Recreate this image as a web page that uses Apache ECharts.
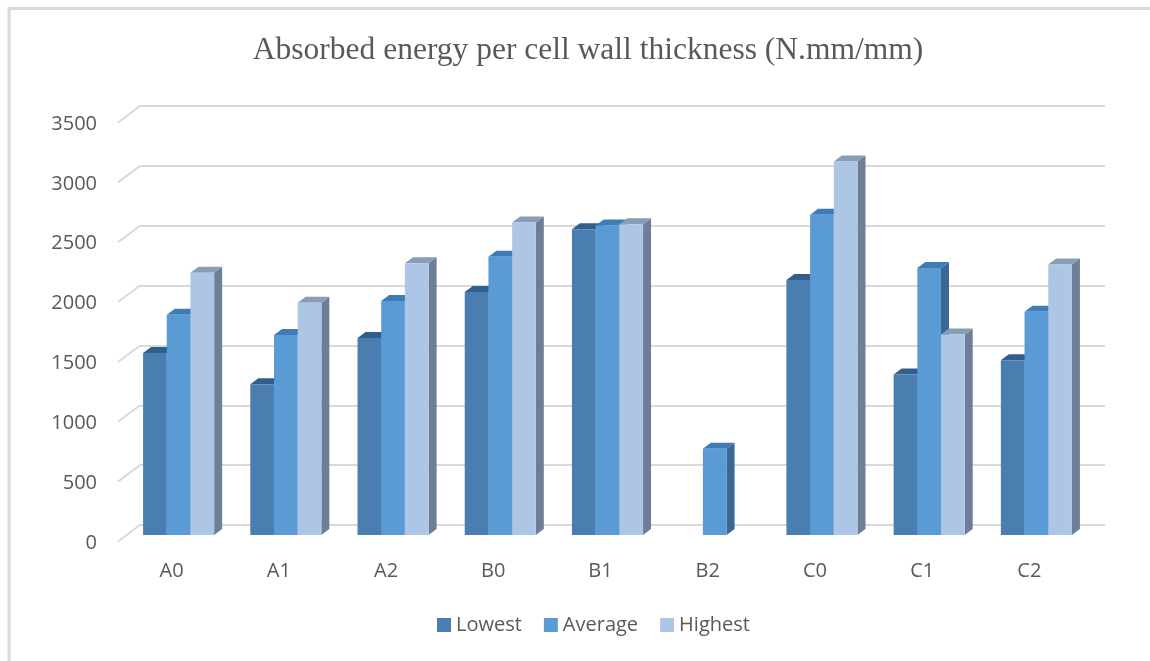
<!DOCTYPE html>
<html>
<head>
<meta charset="utf-8">
<script src="https://cdn.jsdelivr.net/npm/echarts@6/dist/echarts.min.js"></script>
<style>
  html, body { margin: 0; padding: 0; background: #ffffff; }
  #chart { width: 1150px; height: 661px; }
</style>
</head>
<body>
<div id="chart"></div>
<script>
// Absorbed energy per cell wall thickness, three statistics per specimen
const categories = ['A0', 'A1', 'A2', 'B0', 'B1', 'B2', 'C0', 'C1', 'C2'];
const lowest  = [1520, 1260, 1645, 2030, 2555, null, 2130, 1340, 1460];
const average = [1840, 1670, 1955, 2325, 2585, 720, 2675, 2230, 1865];
const highest = [2190, 1940, 2270, 2610, 2595, null, 3120, 1675, 2260];
const yTicks = [0, 500, 1000, 1500, 2000, 2500, 3000, 3500];

// Face colours: front, side, top
const palettes = [
  { front: '#4a7eb1', side: '#3b6793', top: '#315f8c' },
  { front: '#5b9bd5', side: '#3a6892', top: '#3f7cb7' },
  { front: '#adc6e6', side: '#6d7f96', top: '#8a9db7' }
];

// Oblique 3D offsets (px)
const FRONT_DX = -15, FRONT_DY = 10;   // bar front plane relative to back wall
const DEPTH_DX = 8, DEPTH_DY = 6;      // bar depth
const FLOOR_DX = 22, FLOOR_DY = 16.5;  // side wall depth
const BAR_RATIO = 0.221;

function barRenderer(slot) {
  const pal = palettes[slot];
  return function (params, api) {
    const v = api.value(1);
    if (v == null || isNaN(v)) return;
    const cat = api.value(0);
    const base = api.coord([cat, 0]);
    const top = api.coord([cat, v]);
    const band = api.size([1, 0])[0];
    const w = band * BAR_RATIO;
    const x0 = base[0] + FRONT_DX + (slot - 1.5) * w;
    const x1 = x0 + w;
    const yb = base[1] + FRONT_DY;
    const yt = top[1] + FRONT_DY;
    return {
      type: 'group',
      children: [
        {
          type: 'polygon',
          shape: { points: [[x1, yt], [x1 + DEPTH_DX, yt - DEPTH_DY], [x1 + DEPTH_DX, yb - DEPTH_DY], [x1, yb]] },
          style: { fill: pal.side }
        },
        {
          type: 'polygon',
          shape: { points: [[x0, yt], [x0 + DEPTH_DX, yt - DEPTH_DY], [x1 + DEPTH_DX, yt - DEPTH_DY], [x1, yt]] },
          style: { fill: pal.top }
        },
        {
          type: 'rect',
          shape: { x: x0, y: yt, width: w, height: yb - yt },
          style: { fill: pal.front }
        }
      ]
    };
  };
}

function toData(arr) {
  return arr.map((v, i) => [i, v]);
}

const seriesNames = ['Lowest', 'Average', 'Highest'];
const seriesValues = [lowest, average, highest];

const barSeries = seriesValues.map((vals, k) => ({
  name: seriesNames[k],
  type: 'custom',
  xAxisIndex: 0,
  yAxisIndex: 0,
  renderItem: barRenderer(k),
  itemStyle: { color: palettes[k].front },
  encode: { x: 0, y: 1 },
  data: toData(vals),
  z: 5
}));

// Slanted lines of the side wall at each tick
const wallSeries = {
  type: 'custom',
  xAxisIndex: 0,
  yAxisIndex: 0,
  silent: true,
  z: 1,
  encode: { x: 0, y: 1 },
  data: yTicks.map(t => [0, t]),
  renderItem: function (params, api) {
    const left = params.coordSys.x;
    const p = api.coord([0, api.value(1)]);
    return {
      type: 'line',
      shape: { x1: left - FLOOR_DX, y1: p[1] + FLOOR_DY, x2: left, y2: p[1] },
      style: { stroke: '#d9d9d9', lineWidth: 2 }
    };
  }
};

const labelFont = { fontFamily: 'Open Sans', fontSize: 20, color: '#595959' };

const chart = echarts.init(document.getElementById('chart'), null, { renderer: 'canvas' });
chart.setOption({
  backgroundColor: '#ffffff',
  animation: false,
  title: {
    text: 'Absorbed energy per cell wall thickness (N.mm/mm)',
    left: 583,
    textAlign: 'center',
    top: 30,
    textStyle: { fontFamily: 'Liberation Serif', fontSize: 31.5, fontWeight: 'normal', color: '#595959' }
  },
  legend: {
    left: 432,
    top: 610,
    itemWidth: 14,
    itemHeight: 14,
    itemGap: 22,
    icon: 'rect',
    data: seriesNames,
    textStyle: Object.assign({ padding: [0, 0, 0, 0] }, labelFont)
  },
  graphic: [{
    type: 'rect',
    shape: { x: 9, y: 8.5, width: 1200, height: 700 },
    style: { fill: 'none', stroke: '#d9d9d9', lineWidth: 3 },
    silent: true,
    z: 0
  }],
  grid: [
    { left: 140, right: 45, top: 106, bottom: 136 },
    { left: 118, right: 67, top: 124, bottom: 118 }
  ],
  xAxis: [
    {
      gridIndex: 0, type: 'category', data: categories,
      axisLine: { show: false }, axisTick: { show: false }, axisLabel: { show: false }
    },
    {
      gridIndex: 1, type: 'category', data: categories,
      axisLine: { show: false }, axisTick: { show: false },
      axisLabel: Object.assign({ margin: 18 }, labelFont)
    }
  ],
  yAxis: [
    {
      gridIndex: 0, type: 'value', min: 0, max: 3500, interval: 500,
      axisLine: { show: false }, axisTick: { show: false }, axisLabel: { show: false },
      splitLine: { show: true, lineStyle: { color: '#d9d9d9', width: 2 } }
    },
    {
      gridIndex: 1, type: 'value', min: 0, max: 3500, interval: 500,
      axisLine: { show: false }, axisTick: { show: false }, splitLine: { show: false },
      axisLabel: Object.assign({ margin: 21, formatter: v => String(v) }, labelFont)
    }
  ],
  series: [wallSeries].concat(barSeries)
});
</script>
</body>
</html>
